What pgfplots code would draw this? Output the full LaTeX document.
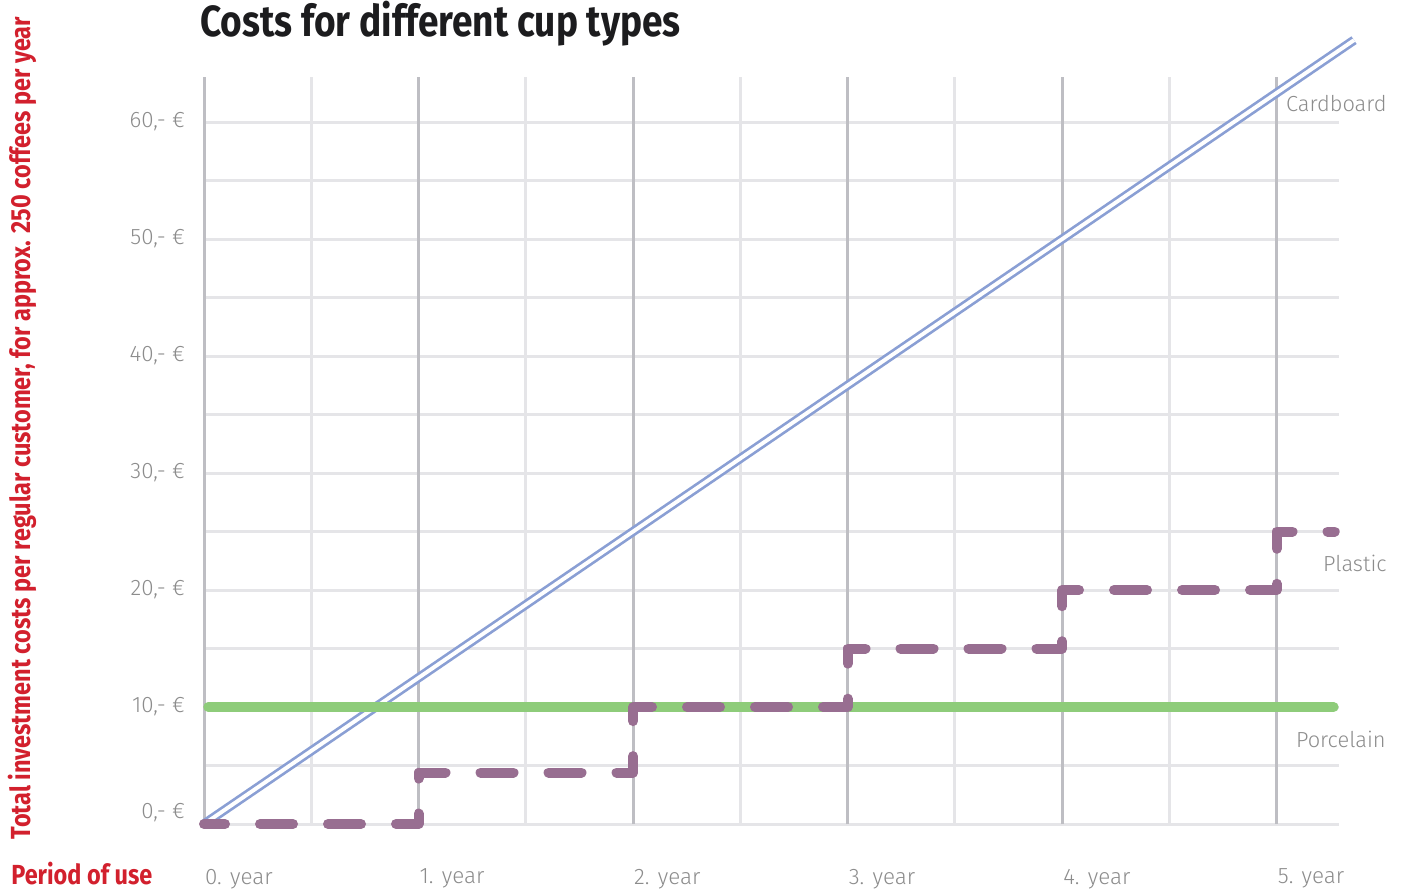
\documentclass[border=0pt]{standalone}
\usepackage{fontspec}
\setmainfont{Fira Sans}
\newfontfamily\lightfont{Fira Sans Light}
\newfontfamily\condfont[FakeStretch=0.85]{Fira Sans}
\usepackage{pgfplots}
\pgfplotsset{compat=1.18}
\definecolor{gridlight}{RGB}{229,229,232}
\definecolor{griddark}{RGB}{190,190,195}
\definecolor{cardblue}{RGB}{138,159,212}
\definecolor{porcgreen}{RGB}{142,204,122}
\definecolor{plasticpurple}{RGB}{152,110,145}
\definecolor{labelgray}{RGB}{140,140,140}
\definecolor{titlered}{RGB}{210,32,45}
\definecolor{titleblack}{RGB}{28,28,30}
\begin{document}
\begin{tikzpicture}
\useasboundingbox (0,0) rectangle (703pt,444.5pt);
\begin{axis}[
  scale only axis,
  width=567.5pt, height=373.5pt,
  at={(102pt,32.5pt)}, anchor=south west,
  xmin=0, xmax=5.29, ymin=0, ymax=63.85,
  clip=false,
  axis line style={draw=none},
  major tick length=0pt, minor tick length=0pt,
  tick style={draw=none},
  xtick={0,1,2,3,4,5},
  xticklabels={0. year,1. year,2. year,3. year,4. year,5. year},
  minor xtick={0.5,1.5,2.5,3.5,4.5},
  ytick={10,20,30,40,50,60},
  yticklabels={10{,}- €,20{,}- €,30{,}- €,40{,}- €,50{,}- €,60{,}- €},
  minor ytick={0,5,15,25,35,45,55},
  xmajorgrids=false, xminorgrids=true,
  ymajorgrids=true, yminorgrids=true,
  major grid style={gridlight, line width=1.5pt},
  minor grid style={gridlight, line width=1.5pt},
  extra x ticks={0,1,2,3,4,5},
  extra x tick labels={},
  extra x tick style={xmajorgrids=true, major grid style={griddark, line width=1.5pt}},
  extra y ticks={1},
  extra y tick labels={0{,}- €},
  extra y tick style={grid=none},
  every tick label/.append style={font=\lightfont\fontsize{11.2pt}{12pt}\selectfont, text=labelgray},
  yticklabel style={xshift=-6pt},
  xticklabel style={anchor=north west, xshift=-3pt, yshift=-18.9pt},
]
\addplot[cardblue, line width=1.35pt, double=white, double distance=1.95pt] coordinates {(0,0) (5.36,67.0)};
\addplot[porcgreen, line width=5pt, line cap=round] coordinates {(0.02,10) (5.265,10)};
\addplot[plasticpurple, line width=5pt, line cap=round, line join=round, dash pattern=on 16.5pt off 17.5pt, dash phase=6pt]
  coordinates {(0,0) (1,0) (1,4.4) (2,4.4) (2,10) (3,10) (3,15) (4,15) (4,20) (5,20) (5,25) (5.27,25)};
\end{axis}
\node[anchor=base west, inner sep=0, text=titleblack, font=\condfont\bfseries\fontsize{21.8pt}{24pt}\selectfont] at (100pt,426pt) {Costs for different cup types};
\node[anchor=center, inner sep=0, rotate=90, text=titlered, font=\condfont\bfseries\fontsize{13.8pt}{15pt}\selectfont] at (11.2pt,230.5pt) {Total investment costs per regular customer, for approx. 250 coffees per year};
\node[anchor=base west, inner sep=0, text=titlered, font=\condfont\bfseries\fontsize{13.8pt}{15pt}\selectfont] at (5.5pt,2.5pt) {Period of use};
\node[anchor=base east, inner sep=0, text=labelgray, font=\lightfont\fontsize{10.9pt}{12pt}\selectfont] at (693.5pt,388.5pt) {Cardboard};
\node[anchor=base east, inner sep=0, text=labelgray, font=\lightfont\fontsize{10.9pt}{12pt}\selectfont] at (693.5pt,159pt) {Plastic};
\node[anchor=base east, inner sep=0, text=labelgray, font=\lightfont\fontsize{10.9pt}{12pt}\selectfont] at (693pt,71pt) {Porcelain};
\end{tikzpicture}
\end{document}
